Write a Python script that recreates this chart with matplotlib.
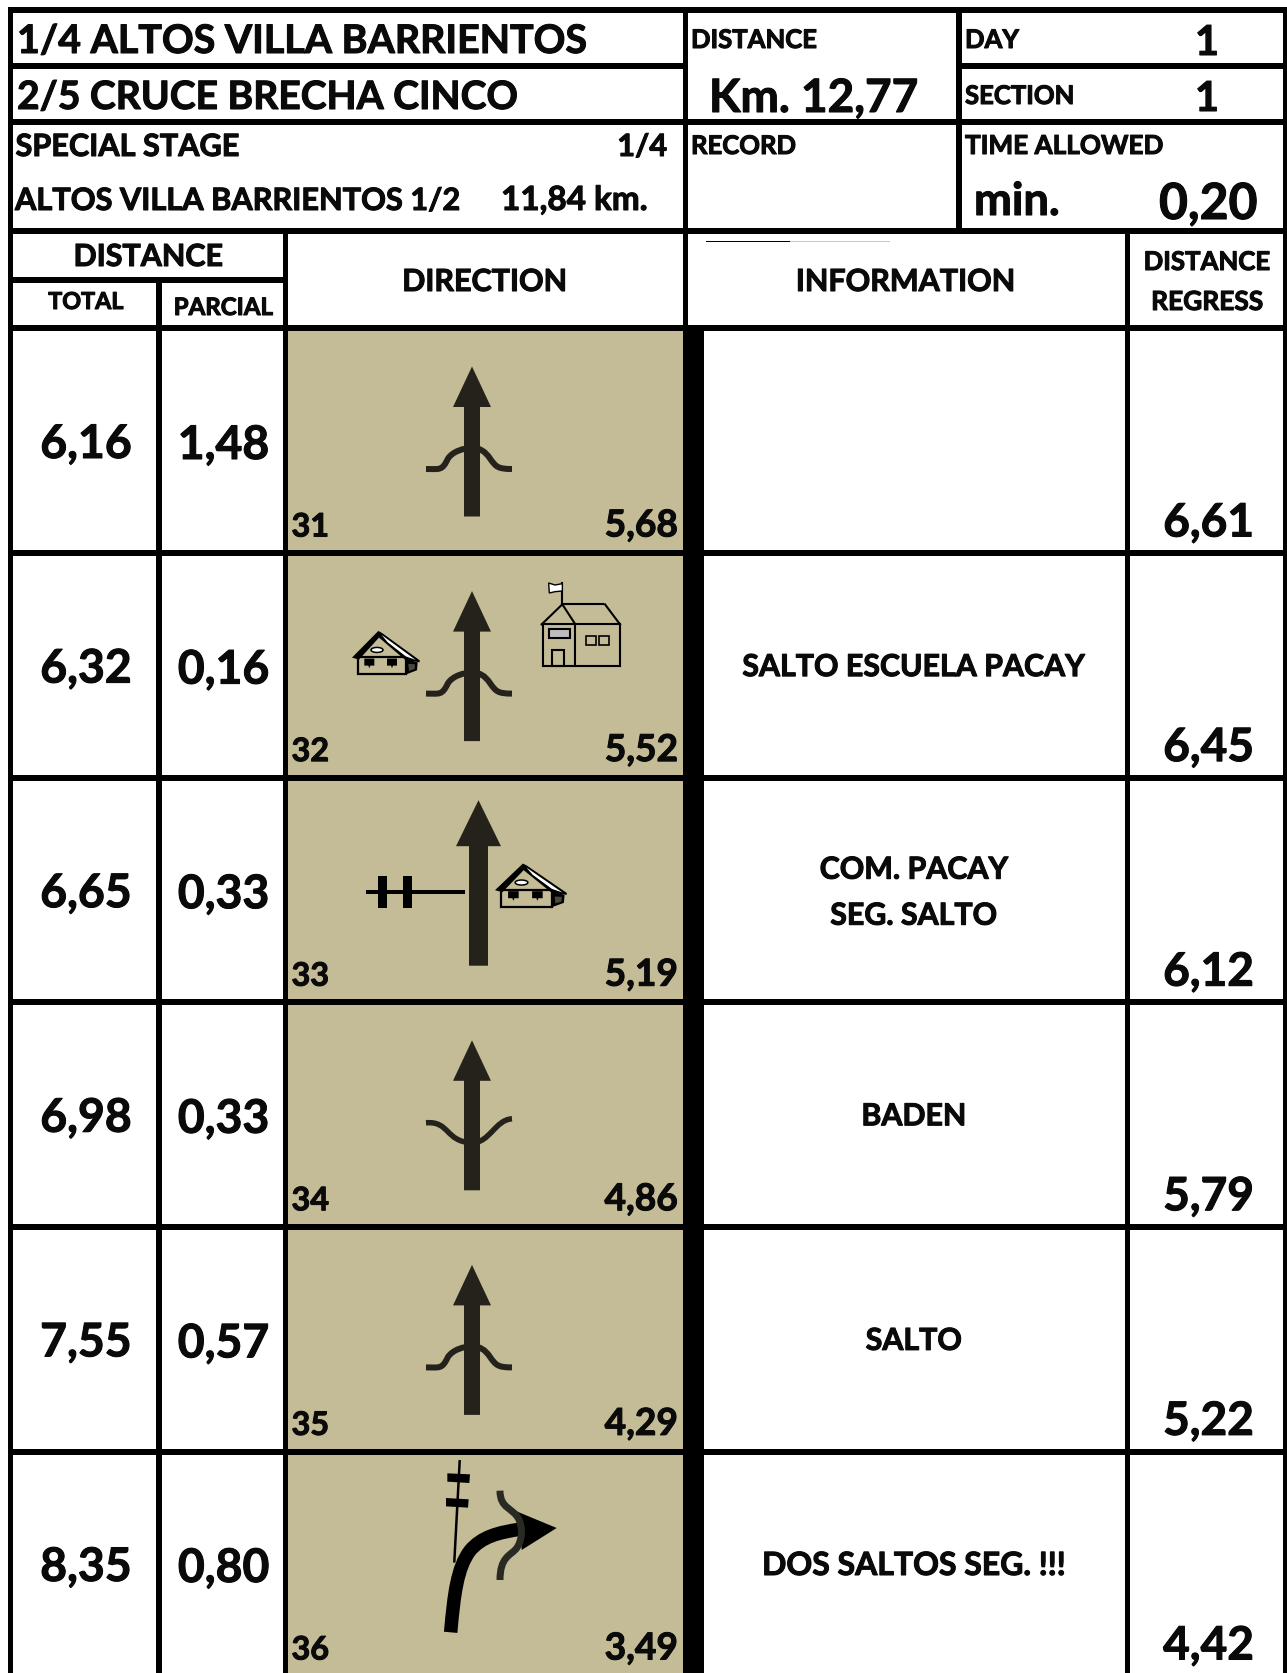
import matplotlib
matplotlib.use("Agg")
import matplotlib.pyplot as plt
import matplotlib.patheffects as pe
import numpy as np
from matplotlib.patches import Rectangle, Polygon, Ellipse, PathPatch
from matplotlib.path import Path
from matplotlib.textpath import TextPath
from matplotlib.font_manager import FontProperties

# ---- chart values ----
totals = ["6,16", "6,32", "6,65", "6,98", "7,55", "8,35"]
parcials = ["1,48", "0,16", "0,33", "0,33", "0,57", "0,80"]
numbers = ["31", "32", "33", "34", "35", "36"]
remaining = ["5,68", "5,52", "5,19", "4,86", "4,29", "3,49"]
regress = ["6,61", "6,45", "6,12", "5,79", "5,22", "4,42"]
information = [[], ["SALTO ESCUELA PACAY"], ["COM. PACAY", "SEG. SALTO"], ["BADEN"], ["SALTO"], ["DOS SALTOS SEG. !!!"]]
icon_kinds = ["bump", "school", "fence", "dip", "bump", "turn"]

W, H = 1287, 1674
GOLD = "#C4BC96"
DARK = "#25221C"
FP = FontProperties(family="Lato", weight="bold")
BOLDEN = [pe.withStroke(linewidth=0.75, foreground="#0a0a0a")]

fig = plt.figure(figsize=(W / 100, H / 100), dpi=100, facecolor="white")
ax = fig.add_axes([0, 0, 1, 1])
ax.set_xlim(0, W)
ax.set_ylim(H, 0)
ax.axis("off")


def fit(s, width):
    return width / TextPath((0, 0), s, size=1, prop=FP).get_extents().width * 72 / 100


def txt(x, y, s, size, ha="left"):
    ax.text(x, y, s, fontsize=size, ha=ha, va="baseline", family="Lato", weight="bold",
            color="#0a0a0a", zorder=6, path_effects=BOLDEN)


def hline(x0, x1, y0, y1, color="black"):
    ax.add_patch(Rectangle((x0, y0), x1 - x0, y1 - y0, fc=color, ec="none", zorder=5))


vline = hline


def poly(pts, fc, ec="none", lw=0, z=4):
    ax.add_patch(Polygon(pts, closed=True, fc=fc, ec=ec, lw=lw, zorder=z))


def curve(verts, codes, lw, color=DARK, z=4, cap="butt"):
    ax.add_patch(PathPatch(Path(verts, codes), fc="none", ec=color, lw=lw * 0.72, capstyle=cap, zorder=z))


# ---- grid ----
row_tops = [332 + 224.6 * i for i in range(6)]
for t in row_tops:
    ax.add_patch(Rectangle((288, t - 1), 395, 226, fc=GOLD, ec="none", zorder=1))
ax.add_patch(Rectangle((683, 326), 21, H - 326, fc="black", ec="none", zorder=5))

for y0, y1, a, b in [(8, 14, 8, 1288), (64, 70, 8, 683), (120, 126, 8, 1288), (229, 235, 8, 1288),
                     (278, 284, 8, 288), (326, 332, 8, 1288)]:
    hline(a, b, y0, y1)
hline(961, 1288, 64, 70)
for t in row_tops[1:]:
    hline(8, 1288, t - 5.5, t + 0.5)
for x0, x1, y0, y1 in [(8, 13, 8, H), (156, 162, 278, H), (283, 288, 229, H), (683, 688, 8, 332),
                       (956, 962, 8, 235), (1125, 1130, 229, H), (1283, 1288, 8, H)]:
    vline(x0, x1, y0, y1)

# thin stray rule above INFORMATION
hline(706, 790, 241.5, 242.5)
hline(790, 890, 241.5, 242.5, "#c8c8c8")

# ---- header text ----
txt(17, 54, "1/4 ALTOS VILLA BARRIENTOS", fit("1/4 ALTOS VILLA BARRIENTOS", 566))
txt(17, 110, "2/5 CRUCE BRECHA CINCO", fit("2/5 CRUCE BRECHA CINCO", 498))
txt(15.5, 157, "SPECIAL STAGE", fit("SPECIAL STAGE", 222))
txt(667, 157, "1/4", fit("SPECIAL STAGE", 222), "right")
txt(15, 211, "ALTOS VILLA BARRIENTOS 1/2", fit("ALTOS VILLA BARRIENTOS 1/2", 444))
txt(501, 211, "11,84 km.", fit("11,84 km.", 143))
s_small = fit("RECORD", 102)
txt(691, 49, "DISTANCE", s_small)
txt(965, 49, "DAY", s_small)
txt(965, 105, "SECTION", s_small)
txt(691, 155, "RECORD", s_small)
txt(965, 155, "TIME ALLOWED", fit("TIME ALLOWED", 197))
txt(709, 113, "Km. 12,77", fit("Km. 12,77", 204))
s_one = fit("0,20", 97) * 0.82
txt(1207, 56, "1", s_one, "center")
txt(1207, 112, "1", s_one, "center")
txt(974, 216, "min.", fit("min.", 81))
txt(1159, 220, "0,20", fit("0,20", 96))
s_head = fit("DIRECTION", 160)
txt(148.5, 267, "DISTANCE", s_head, "center")
txt(485, 292, "DIRECTION", s_head, "center")
txt(906, 292, "INFORMATION", s_head, "center")
s_tp = fit("PARCIAL", 97)
txt(86, 310, "TOTAL", s_tp * 0.97, "center")
txt(223, 316, "PARCIAL", s_tp, "center")
s_reg = fit("REGRESS", 109)
txt(1207, 271, "DISTANCE", s_reg * 0.98, "center")
txt(1207, 311, "REGRESS", s_reg, "center")

# ---- row text ----
s_big = fit("6,16", 88)
s_reg_v = fit("6,61", 86)
s_rem = fit("5,52", 70)
s_num = fit("32", 35)
s_info = fit("SALTO ESCUELA PACAY", 342)
s_info6 = fit("DOS SALTOS SEG. !!!", 299)
for i, t in enumerate(row_tops):
    txt(86, t + 127, totals[i], s_big, "center")
    txt(223.5, t + 128, parcials[i], s_big, "center")
    txt(1208.5, t + 205.5, regress[i], s_reg_v, "center")
    txt(291.5, t + 205.5, numbers[i], s_num)
    txt(678, t + 205.5, remaining[i], s_rem, "right")
    lines = information[i]
    if len(lines) == 1:
        txt(914, t + 120.5 if i < 5 else t + 121, lines[0], s_info6 if i == 5 else s_info, "center")
    elif len(lines) == 2:
        txt(914, t + 98.5, lines[0], s_info, "center")
        txt(914, t + 144.5, lines[1], s_info, "center")


# ---- pictograms ----
def arrow(cx, top, base, bottom, sw, hw):
    poly([(cx - sw, bottom), (cx - sw, base), (cx - hw, base), (cx, top), (cx + hw, base), (cx + sw, base),
          (cx + sw, bottom)], DARK, z=4)


M, C, L = Path.MOVETO, Path.CURVE4, Path.LINETO


def wave(x0, y0, xm, ym, x1, y1, lw):
    verts = [(x0, y0), (x0 + 14, y0), (x0 + 16, y0 + 2), (x0 + 22, (y0 + ym) / 2),
             (x0 + 27, ym + (y0 - ym) * 0.15), (xm - 8, ym), (xm, ym),
             (xm + 8, ym), (x1 - 27, ym + (y1 - ym) * 0.15), (x1 - 22, (y1 + ym) / 2),
             (x1 - 16, y1 + 2 * np.sign(ym - y1)), (x1 - 14, y1), (x1, y1)]
    codes = [M] + [C] * 12
    curve(verts, codes, lw, z=3)


def house(ox, oy, s=1.0):
    def P(x, y):
        return (ox + (x - 215) / 3 * s, oy + (y - 245) / 3)
    # walls
    poly([P(233, 325), P(233, 376), P(376, 376), P(376, 325)], "none", "black", 1.6, 4)
    # dark gable side
    poly([P(374, 330), P(412, 340), P(410, 364), P(376, 377)], "black", z=4)
    poly([P(384, 345), P(404, 346), P(403, 360), P(386, 366)], "#4a473e", z=4)
    # roof
    poly([P(215, 326), P(294, 246), P(305, 252), P(418, 334), P(418, 340), P(376, 334),
          P(296, 266), P(236, 332)], "black", z=4)
    poly([P(304, 258), P(406, 333), P(376, 322), P(322, 280)], "white", z=5)
    # windows
    for xa in (252, 320):
        poly([P(xa, 329), P(xa + 30, 329), P(xa + 30, 350), P(xa + 18, 350), P(xa + 15, 358), P(xa + 12, 350),
              P(xa, 350)], "black", z=4)
    ax.add_patch(Ellipse(P(290, 303), 12 * s, 5, fc="white", ec="black", lw=1.1, zorder=5))


def school():
    def P(x, y):
        return (280 + x / 3, 550 + y / 3)
    lw = 1.5
    for a, b in [((790, 350), (1020, 350)), ((790, 228), (790, 350)), ((886, 228), (886, 350)),
                 ((1020, 228), (1020, 350)), ((785, 226), (1020, 226)), ((785, 226), (847, 166)),
                 ((847, 166), (886, 226)), ((847, 164), (968, 164)), ((975, 166), (1020, 226)),
                 ((847, 166), (847, 102))]:
        ax.plot([P(*a)[0], P(*b)[0]], [P(*a)[1], P(*b)[1]], color="black", lw=lw, zorder=4, solid_capstyle="projecting")
    poly([P(806, 240), P(870, 240), P(870, 268), P(806, 268)], "#bdbdbd", "black", 1.5)
    poly([P(817, 302), P(853, 302), P(853, 350), P(817, 350)], "none", "black", 1.5)
    poly([P(918, 262), P(947, 262), P(947, 289), P(918, 289)], "none", "black", 1.2)
    poly([P(958, 262), P(987, 262), P(987, 289), P(958, 289)], "none", "black", 1.2)
    poly([P(806, 102), P(825, 108), P(847, 104), P(847, 126), P(825, 128), P(808, 132)], "white", "black", 1)


def fence():
    hline(366, 465, 891, 895)
    hline(378, 387, 877, 909)
    hline(403, 412, 877, 909)


def turn():
    def P(x, y):
        return (430 + x / 3, 1455 + y / 3)
    # telegraph line
    ax.plot(*zip(P(89, 22), P(73, 322)), color="black", lw=1.8, zorder=4)
    poly([P(52, 58), P(120, 61), P(118, 87), P(52, 83)], "black")
    poly([P(48, 132), P(116, 136), P(114, 161), P(48, 157)], "black")
    # road
    curve([P(62, 535), P(72, 420), P(82, 340), P(120, 290), P(155, 248), P(205, 235), P(275, 225)],
          [M, C, C, C, C, C, C], 13.5, color="black", z=4)
    poly([P(380, 222), P(250, 168), P(272, 222), P(275, 288)], "black", z=4)
    # dip
    curve([P(210, 110), P(210, 165), P(248, 160), P(266, 195), P(280, 225), P(276, 262), P(258, 285),
           P(240, 305), P(210, 310), P(210, 378)], [M, C, C, C, C, C, C, C, C, C], 7, color="#2a2a24", z=5)


for kind, t in zip(icon_kinds, row_tops):
    if kind in ("bump", "school"):
        arrow(472, t + 35.5, t + 76, t + 185.5, 8, 19)
        wave(426, t + 138, 472, t + 117, 512, t + 138, 6)
    if kind == "school":
        house(352, t + 75)
        school()
    if kind == "fence":
        arrow(478.5, t + 20, t + 66, t + 185.5, 9.5, 22.5)
        fence()
        house(495, t + 83, 1.06)
    if kind == "dip":
        arrow(472, t + 35.5, t + 76, t + 185.5, 8, 19)
        curve([(426, t + 118), (450, t + 116), (445, t + 137), (472, t + 138),
               (490, t + 138), (495, t + 115), (512, t + 114)], [M, C, C, C, C, C, C], 5.5, z=3)
    if kind == "turn":
        turn()

fig.savefig("out.png", dpi=100, facecolor="white")
